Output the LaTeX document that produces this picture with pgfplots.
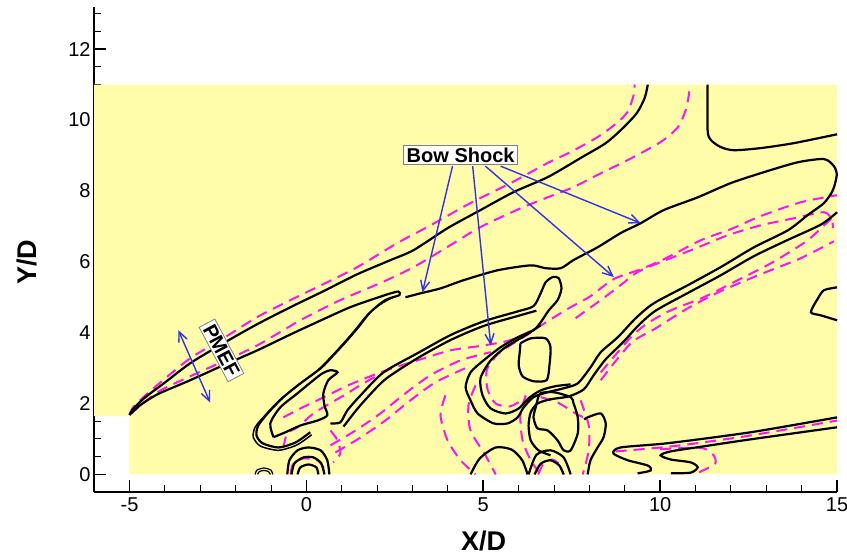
\documentclass[border=0pt]{standalone}
\usepackage{pgfplots}
\pgfplotsset{compat=1.18}
\usepackage{fontspec}
\setmainfont{Liberation Sans}
\usetikzlibrary{arrows.meta}

\definecolor{fieldyellow}{RGB}{255,252,170}
\definecolor{pmag}{RGB}{255,20,235}
\definecolor{arrowblue}{RGB}{50,50,235}

\pgfplotsset{
  cont/.style={black, line width=2.2pt, smooth, tension=0.45, mark=none},
  dcont/.style={pmag, line width=2pt, dash pattern=on 11pt off 7pt, smooth, tension=0.45, mark=none},
}

\begin{document}
\begin{tikzpicture}
\begin{axis}[
  scale only axis, width=742.4pt, height=485pt,
  xmin=-6, xmax=15, ymin=-0.5, ymax=13.2,
  axis lines=left, axis line style={-, line width=1.8pt},
  xtick={-5,0,5,10,15}, ytick={0,2,4,6,8,10,12},
  minor xtick={-4,-3,-2,-1,1,2,3,4,6,7,8,9,11,12,13,14},
  minor ytick={0.5,1,1.5,2.5,3,3.5,4.5,5,5.5,6.5,7,7.5,8.5,9,9.5,10.5,11,11.5,12.5,13},
  tick align=inside, major tick length=12pt, minor tick length=7pt,
  every major tick/.style={line width=1.6pt, black},
  every minor tick/.style={line width=1pt, black},
  tick label style={font=\fontsize{20}{24}\selectfont},
  xticklabel style={yshift=-2pt},
  /pgf/number format/assume math mode=true,
  clip=false,
]
% computational domain
\addplot[draw=none, fill=fieldyellow] coordinates {(-6,1.65) (-5,1.65) (-5,0) (15,0) (15,11) (-6,11)} -- cycle;

% --- dashed contours ---
\addplot[dcont] coordinates {(-5.0,1.68) (-4.89,1.90) (-4.55,2.23) (-3.99,2.71) (-3.28,3.28) (-2.35,3.84) (-1.39,4.44) (-0.45,4.92) (0.48,5.37) (1.44,5.85) (2.57,6.53) (3.51,7.03) (4.64,7.66) (5.77,8.22) (6.82,8.79) (7.47,9.10) (8.23,9.52) (8.74,9.89) (9.08,10.23) (9.25,10.71) (9.28,11.0)};
\addplot[dcont] coordinates {(-5.0,1.68) (-4.21,2.32) (-3.28,2.77) (-2.35,3.19) (-1.39,3.64) (-0.17,4.35) (0.96,4.92) (2.09,5.40) (3.03,5.85) (4.07,6.47) (4.92,6.98) (6.05,7.51) (6.82,7.82) (7.55,8.11) (8.32,8.50) (9.08,8.87) (10.01,9.38) (10.50,9.80) (10.72,10.28) (10.81,10.71) (10.83,11.0)};
\addplot[dcont] coordinates {(-0.65,1.61) (-0.17,1.86) (0.31,2.09) (1.24,2.54) (2.18,2.91) (3.14,3.22) (4.07,3.50) (5.01,3.64) (5.77,3.79) (6.48,4.12) (7.04,4.46) (7.47,4.72) (8.03,5.03) (8.68,5.51) (9.45,5.79) (10.16,6.10) (11.15,6.61) (11.99,6.92) (12.84,7.29) (13.97,7.68) (15.0,7.88)};
\addplot[dcont] coordinates {(7.61,4.41) (8.32,4.92) (8.88,5.34) (9.36,5.71) (10.01,5.99) (10.95,6.36) (11.91,6.75) (12.84,7.03) (13.78,7.23) (14.63,7.40) (14.85,7.18) (14.88,6.95)};
\addplot[dcont] coordinates {(8.32,2.88) (9.17,3.87) (9.65,4.27) (10.30,4.63) (11.23,5.00) (12.19,5.48) (13.13,5.96) (14.17,6.61) (14.91,7.30)};
\addplot[dcont] coordinates {(8.32,2.66) (9.17,3.70) (9.87,4.12) (10.78,4.69) (11.71,5.17) (12.84,5.65) (13.97,6.10) (14.91,6.58)};
\addplot[dcont] coordinates {(-0.65,0.76) (-0.54,1.16) (-0.25,1.33) (0.20,1.72) (0.68,2.01) (1.16,2.29) (1.61,2.57) (2.38,2.99)};
\addplot[dcont] coordinates {(0.68,0.82) (1.39,1.24) (2.09,1.72) (2.80,2.29) (3.51,2.80) (4.36,3.22) (5.21,3.45)};
\addplot[dcont] coordinates {(0.82,0.62) (1.53,1.04) (2.23,1.52) (2.94,2.09) (3.65,2.60) (4.50,3.00)};
\addplot[dcont] coordinates {(-0.45,0) (-0.37,0.31) (-0.08,0.45) (0.31,0.40) (0.48,0.20) (0.54,0)};
\addplot[dcont] coordinates {(0.68,1.24) (0.88,0.96) (0.96,0.59) (0.76,0.34)};
\addplot[dcont] coordinates {(3.93,2.23) (3.79,1.67) (3.99,0.96) (4.36,0.40) (4.78,0)};
\addplot[dcont] coordinates {(4.78,2.51) (4.58,1.95) (4.64,1.24) (5.06,0.54) (5.35,0)};
\addplot[dcont] coordinates {(6.34,4.00) (5.85,3.70) (5.40,3.38) (5.10,2.95) (5.12,2.40) (5.35,2.00) (5.75,1.92) (6.10,2.10)};
\addplot[dcont] coordinates {(6.20,2.23) (6.05,1.67) (6.11,0.96) (6.34,0.40) (6.62,0)};
\addplot[dcont] coordinates {(7.75,2.09) (7.98,1.38) (7.98,0.68) (7.81,0)};
\addplot[dcont] coordinates {(6.62,2.18) (7.10,2.03) (7.61,1.72) (7.95,1.55)};
\addplot[dcont] coordinates {(6.55,0) (6.70,0.30) (6.95,0.42) (7.15,0.28) (7.27,0)};
\addplot[dcont] coordinates {(8.74,0.65) (9.36,0.70) (10.58,0.82) (12.56,1.10) (15.0,1.52)};
\addplot[dcont] coordinates {(10.0,0.71) (11.15,0.75) (11.5,0.55) (11.55,0.30) (11.1,0.06)};

% --- solid contours ---
\addplot[cont] coordinates {(-5.0,1.68) (-4.89,1.86) (-4.55,2.18) (-3.99,2.60) (-3.28,3.14) (-2.35,3.70) (-1.39,4.24) (-0.45,4.72) (0.48,5.17) (1.44,5.65) (2.38,6.05) (3.03,6.33) (3.99,6.95) (4.92,7.46) (5.86,7.97) (6.82,8.39) (7.75,8.93) (8.46,9.35) (8.94,9.77) (9.34,10.20) (9.56,10.62) (9.65,11.0)};
\addplot[cont] coordinates {(-5.0,1.68) (-4.70,1.95) (-4.21,2.26) (-3.28,2.66) (-2.35,3.08) (-1.39,3.50) (-0.45,3.95) (0.48,4.38) (1.24,4.72) (1.95,4.97) (2.38,5.11) (2.60,5.16) (2.63,5.06) (2.23,4.92) (1.81,4.58) (1.44,4.12) (1.10,3.73) (0.76,3.36) (0.40,2.99) (-0.17,2.57) (-0.65,2.18) (-1.07,1.75) (-1.36,1.38) (-1.41,1.10) (-1.24,0.88) (-0.79,0.76) (-0.31,0.90) (0.11,1.19)};
\addplot[cont, line width=1.5pt] coordinates {(2.50,5.02) (2.15,4.84) (1.74,4.52) (1.37,4.07) (1.03,3.68) (0.69,3.31) (0.32,2.94) (-0.24,2.51) (-0.73,2.12) (-1.15,1.69) (-1.45,1.33) (-1.50,1.05) (-1.30,0.80) (-0.79,0.68) (-0.27,0.83) (0.15,1.12)};
\addplot[cont] coordinates {(-0.93,1.05) (-1.02,1.44) (-0.74,1.89) (-0.25,2.29) (0.20,2.66) (0.45,2.85) (0.68,2.94) (0.88,2.88) (0.62,2.66) (0.48,2.29) (0.51,1.95) (0.59,1.67) (0.34,1.53) (-0.17,1.38) (-0.59,1.19) (-0.93,1.05)};
\addplot[cont] coordinates {(2.80,5.00) (3.22,5.11) (3.79,5.25) (4.44,5.48) (5.40,5.76) (6.34,5.90) (6.76,5.82) (7.19,5.82) (7.55,6.05) (8.23,6.41) (8.88,6.81) (9.45,7.09) (10.10,7.46) (11.06,7.82) (11.99,8.22) (12.93,8.53) (13.89,8.81) (14.63,8.90) (14.91,8.70) (14.99,8.45) (14.88,8.02) (14.63,7.66) (14.17,7.32) (13.61,6.89) (12.65,6.41) (11.71,5.85) (10.78,5.34) (9.82,4.83) (9.31,4.41) (8.80,3.87) (8.32,3.45) (8.03,3.02) (7.67,2.57) (7.27,2.43) (6.82,2.32) (6.42,2.18) (6.14,1.89) (5.97,1.61) (5.69,1.44) (5.29,1.44) (4.84,1.72) (4.64,2.09) (4.50,2.46) (4.64,2.88) (5.01,3.22) (5.49,3.59) (5.97,3.87) (6.42,4.07) (6.62,4.29) (6.85,4.63) (7.10,4.92) (7.21,5.25) (7.13,5.54) (6.96,5.57) (6.76,5.42) (6.62,5.11) (6.42,4.75) (5.97,4.60) (5.01,4.32) (4.07,3.93) (3.14,3.42) (2.18,2.88) (1.53,2.23) (1.16,1.81) (0.96,1.47) (0.68,1.44)};
\addplot[cont] coordinates {(1.05,1.35) (1.40,1.80) (1.75,2.20) (2.25,2.70) (3.14,3.28) (4.07,3.79) (5.01,4.19) (5.97,4.47) (6.50,4.62)};
\addplot[cont] coordinates {(6.62,4.21) (6.20,3.93) (5.63,3.59) (5.21,3.22) (4.92,2.71) (4.98,2.23) (5.21,1.86) (5.63,1.72) (6.00,1.86) (6.28,2.15) (6.62,2.37) (7.04,2.49) (7.47,2.54)};
\addplot[cont] coordinates {(15.0,7.40) (14.54,7.05) (13.61,6.62) (12.65,6.16) (11.71,5.62) (10.78,5.12) (9.87,4.62) (9.39,4.21) (8.94,3.72) (8.46,3.25) (8.12,2.80) (7.84,2.40) (7.41,2.20) (6.90,2.12) (6.53,2.00) (6.34,1.75) (6.28,1.38) (6.34,0.96) (6.56,0.68) (6.90,0.54)};
\addplot[cont] coordinates {(6.53,2.09) (6.62,2.29) (6.99,2.32) (7.47,2.18) (7.55,2.01) (7.67,1.61) (7.67,1.16) (7.47,0.68) (7.27,0.68) (7.10,0.96) (6.82,1.24) (6.53,1.30) (6.42,1.61) (6.48,1.89) (6.53,2.09)};
\addplot[cont] coordinates {(6.05,3.70) (6.34,3.84) (6.76,3.84) (6.90,3.59) (6.87,3.08) (6.79,2.66) (6.42,2.63) (6.11,2.77) (6.00,3.08) (6.03,3.45) (6.05,3.70)};
\addplot[cont] coordinates {(7.85,1.55) (7.95,1.61) (8.32,1.72) (8.46,1.44) (8.40,1.05) (8.23,0.76) (8.03,0.40) (7.95,0)};
\addplot[cont] coordinates {(4.64,0) (4.90,0.45) (5.35,0.76) (5.80,0.70) (6.10,0.40) (6.25,0)};
\addplot[cont] coordinates {(6.28,0) (6.50,0.55) (6.90,0.68) (7.27,0.48) (7.47,0)};
\addplot[cont] coordinates {(6.45,0) (6.62,0.30) (6.90,0.40) (7.15,0.25) (7.27,0)};
\addplot[cont] coordinates {(-0.54,0) (-0.48,0.40) (-0.25,0.68) (0.06,0.76) (0.40,0.68) (0.59,0.40) (0.65,0)};
\addplot[cont] coordinates {(-0.42,0) (-0.34,0.31) (-0.08,0.48) (0.20,0.48) (0.42,0.31) (0.51,0)};
\addplot[cont] coordinates {(-0.25,0) (-0.17,0.20) (0.06,0.28) (0.28,0.20) (0.34,0)};
\addplot[cont, line width=1.2pt] coordinates {(-1.45,0) (-1.40,0.12) (-1.20,0.18) (-1.00,0.12) (-0.95,0)};
\addplot[cont, line width=1.2pt] coordinates {(-1.38,0) (-1.33,0.08) (-1.20,0.11) (-1.07,0.08) (-1.02,0)};
\addplot[cont] coordinates {(11.34,11.0) (11.34,9.72) (11.43,9.44) (11.71,9.24) (12.08,9.15) (12.84,9.21) (13.78,9.35) (15.0,9.60)};
\addplot[cont] coordinates {(15.0,5.28) (14.63,5.20) (14.46,4.97) (14.26,4.58) (14.54,4.49) (15.0,4.35)};
\addplot[cont] coordinates {(9.36,0.03) (9.73,0.11) (9.65,0.25) (9.08,0.40) (8.68,0.59) (8.88,0.76) (10.21,0.88) (12.56,1.19) (15.0,1.61)};
\addplot[cont] coordinates {(15.0,1.33) (12.56,0.99) (11.15,0.78) (10.30,0.65) (10.01,0.54) (10.30,0.42) (10.86,0.34) (11.06,0.20) (10.86,0.05) (10.30,0.03)};

% --- annotations ---
\node[draw=gray, fill=white, line width=0.8pt, inner xsep=3pt, inner ysep=2pt, font=\fontsize{20}{23}\selectfont\bfseries] at (axis cs:4.36,9.01) {Bow Shock};
\draw[arrowblue, line width=1.4pt, -{Straight Barb[length=10pt,width=9pt]}] (axis cs:4.13,8.70) -- (axis cs:3.28,5.14);
\draw[arrowblue, line width=1.4pt, -{Straight Barb[length=10pt,width=9pt]}] (axis cs:4.70,8.70) -- (axis cs:5.21,3.64);
\draw[arrowblue, line width=1.4pt, -{Straight Barb[length=10pt,width=9pt]}] (axis cs:5.06,8.70) -- (axis cs:8.69,5.57);
\draw[arrowblue, line width=1.4pt, -{Straight Barb[length=10pt,width=9pt]}] (axis cs:5.49,8.70) -- (axis cs:9.45,7.09);
\draw[arrowblue, line width=1.4pt, {Straight Barb[length=10pt,width=9pt]}-{Straight Barb[length=10pt,width=9pt]}] (axis cs:-3.62,4.07) -- (axis cs:-2.72,2.03);
\node[draw=gray, fill=white, line width=0.8pt, rotate=-62, inner xsep=3pt, inner ysep=2pt, font=\fontsize{20}{23}\selectfont\bfseries] at (axis cs:-2.40,3.50) {PMEF};

\node[font=\fontsize{27}{30}\selectfont\bfseries] at (axis cs:5.01,-1.89) {X/D};
\node[rotate=90, font=\fontsize{27}{30}\selectfont\bfseries] at (axis cs:-7.89,5.99) {Y/D};

\coordinate (bbsw) at (axis cs:-8.66,-2.32);
\coordinate (bbne) at (axis cs:15.28,13.39);
\end{axis}
\pgfresetboundingbox
\path[use as bounding box] (bbsw) rectangle (bbne);
\end{tikzpicture}
\end{document}
